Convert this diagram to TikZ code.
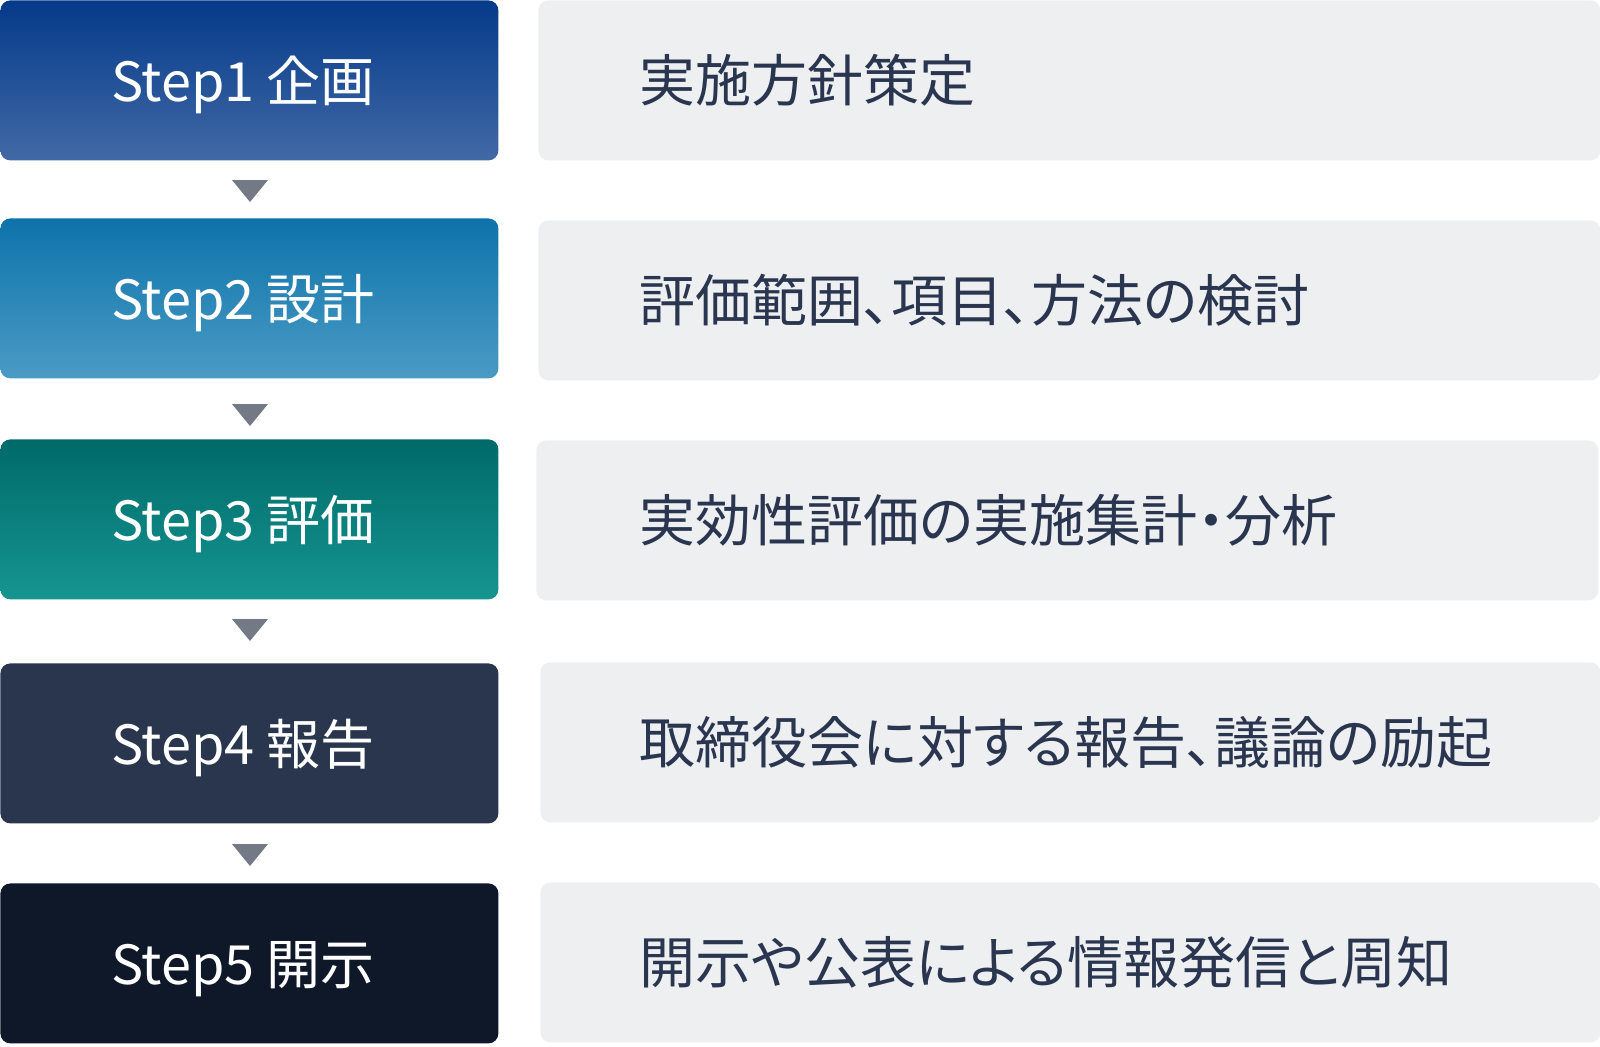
\documentclass[tikz,border=0pt]{standalone}
\usepackage{fontspec}
\newfontfamily\jp{Noto Sans CJK JP}
\newfontfamily\jpp[RawFeature=+palt]{Noto Sans CJK JP}
\definecolor{aTop}{HTML}{053A8A}\definecolor{aBot}{HTML}{4169A5}
\definecolor{bTop}{HTML}{0D73AA}\definecolor{bBot}{HTML}{4A9BC4}
\definecolor{cTop}{HTML}{006A69}\definecolor{cBot}{HTML}{169591}
\definecolor{dCol}{HTML}{29364E}
\definecolor{eCol}{HTML}{0F1829}
\definecolor{panel}{HTML}{EEEFF1}
\definecolor{ink}{HTML}{2A3650}
\definecolor{arrcol}{HTML}{737985}
\tikzset{
  stepbox/.style={rounded corners=5pt, draw=none, anchor=north west, minimum width=249pt, minimum height=80pt, inner sep=0pt},
  panelbox/.style={rounded corners=5pt, fill=panel, draw=none, anchor=north west, minimum height=80pt, inner sep=0pt},
  steplabel/.style={text=white, font=\jp\fontsize{27pt}{33pt}\selectfont, inner sep=0pt, anchor=base},
  desc/.style={text=ink, font=\jpp\fontsize{28pt}{33pt}\selectfont, inner sep=0pt, anchor=base west},
  tri/.style={fill=arrcol}
}
\begin{document}
\begin{tikzpicture}[x=0.5pt,y=-0.5pt]
\useasboundingbox (0,0) rectangle (1600,1046);
% left step boxes
\node[stepbox, top color=aTop, bottom color=aBot] (s1) at (0,0) {};
\node[stepbox, top color=bTop, bottom color=bBot] (s2) at (0,218) {};
\node[stepbox, top color=cTop, bottom color=cBot] (s3) at (0,439) {};
\node[stepbox, fill=dCol] (s4) at (0,663) {};
\node[stepbox, fill=eCol] (s5) at (0,883) {};
% labels
\node[steplabel] (l1) at (243,101) {Step1 企画};
\node[steplabel] (l2) at (243,319) {Step2 設計};
\node[steplabel] (l3) at (243,540) {Step3 評価};
\node[steplabel] (l4) at (243,764) {Step4 報告};
\node[steplabel] (l5) at (243,984) {Step5 開示};
% right panels
\node[panelbox, minimum width=531pt] (p1) at (538,0) {};
\node[panelbox, minimum width=531pt] (p2) at (538,220) {};
\node[panelbox, minimum width=531pt] (p3) at (536,440) {};
\node[panelbox, minimum width=530pt] (p4) at (540,662) {};
\node[panelbox, minimum width=530pt] (p5) at (540,882) {};
% descriptions
\node[desc] (d1) at (639,101) {実施方針策定};
\node[desc] (d2) at (639,321) {評価範囲、項目、方法の検討};
\node[desc] (d3) at (639,541) {実効性評価の実施集計・分析};
\node[desc] (d4) at (639,763) {取締役会に対する報告、議論の励起};
\node[desc] (d5) at (639,983) {開示や公表による情報発信と周知};
% down triangles
\fill[tri] (232,180) -- (268,180) -- (250,202) -- cycle;
\fill[tri] (232,404) -- (268,404) -- (250,426) -- cycle;
\fill[tri] (232,619) -- (268,619) -- (250,641) -- cycle;
\fill[tri] (232,844) -- (268,844) -- (250,866) -- cycle;
\end{tikzpicture}
\end{document}
